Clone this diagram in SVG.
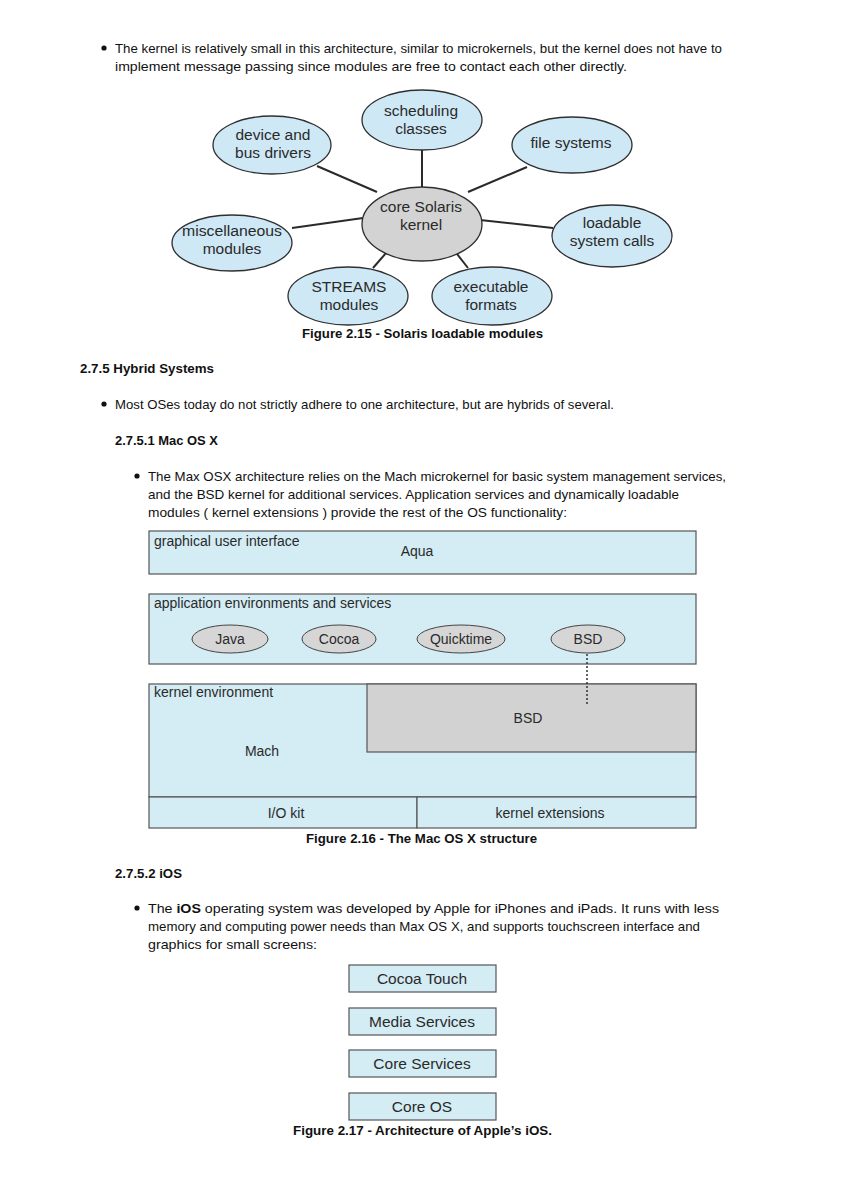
<svg xmlns="http://www.w3.org/2000/svg" width="846" height="1197" viewBox="0 0 846 1197">
<style>
.t{font-family:"Liberation Sans",Arial,sans-serif;font-size:13px;fill:#111}
.b{font-weight:bold}
.n{font-family:"Liberation Sans",Arial,sans-serif;font-size:15.5px;fill:#2a2a2a;text-anchor:middle}
.m{font-family:"Liberation Sans",Arial,sans-serif;font-size:14px;fill:#2a2a2a}
.mc{text-anchor:middle}
.blue{fill:#cfe8f6;stroke:#2f2f2f;stroke-width:1.3}
.gray{fill:#d3d3d3;stroke:#2f2f2f;stroke-width:1.3}
.box{fill:#d4ecf4;stroke:#555;stroke-width:1.2}
.gbox{fill:#d2d2d2;stroke:#555;stroke-width:1.2}
.ob{fill:#d6d6d6;stroke:#444;stroke-width:1}
.edge{stroke:#2a2a2a;stroke-width:2;fill:none}
.dot{stroke:#333;stroke-width:1.5;stroke-dasharray:2,2;fill:none}
</style>
<rect width="846" height="1197" fill="#fff"/>

<!-- page text -->
<circle cx="104" cy="48" r="2.6" fill="#111"/>
<text class="t" x="115" y="52.5" textLength="607" lengthAdjust="spacingAndGlyphs">The kernel is relatively small in this architecture, similar to microkernels, but the kernel does not have to</text>
<text class="t" x="115" y="70.5" textLength="512" lengthAdjust="spacingAndGlyphs">implement message passing since modules are free to contact each other directly.</text>

<!-- Solaris diagram -->
<g id="connectors">
<line class="edge" x1="317" y1="166" x2="377" y2="192"/>
<line class="edge" x1="422" y1="150" x2="422" y2="187"/>
<line class="edge" x1="527" y1="167" x2="468" y2="192"/>
<line class="edge" x1="292" y1="228" x2="363" y2="218"/>
<line class="edge" x1="480" y1="220" x2="553" y2="228"/>
<line class="edge" x1="373" y1="268" x2="393" y2="245"/>
<line class="edge" x1="468" y1="268" x2="450" y2="245"/>
</g>
<g id="device"><ellipse class="blue" cx="272" cy="145" rx="59" ry="29"/><text class="n" x="273" y="140">device and</text><text class="n" x="273" y="158">bus drivers</text></g>
<g id="scheduling"><ellipse class="blue" cx="422" cy="120" rx="60" ry="30"/><text class="n" x="421" y="116">scheduling</text><text class="n" x="421" y="134">classes</text></g>
<g id="filesystems"><ellipse class="blue" cx="572" cy="145" rx="60" ry="28"/><text class="n" x="571" y="148">file systems</text></g>
<g id="core"><ellipse class="gray" cx="422" cy="224" rx="60" ry="37"/><text class="n" x="421" y="212">core Solaris</text><text class="n" x="421" y="230">kernel</text></g>
<g id="misc"><ellipse class="blue" cx="232" cy="243" rx="60" ry="28"/><text class="n" x="232" y="236" textLength="100" lengthAdjust="spacingAndGlyphs">miscellaneous</text><text class="n" x="232" y="254">modules</text></g>
<g id="loadable"><ellipse class="blue" cx="612" cy="236" rx="60" ry="31"/><text class="n" x="612" y="228">loadable</text><text class="n" x="612" y="246">system calls</text></g>
<g id="streams"><ellipse class="blue" cx="348" cy="296" rx="60" ry="29"/><text class="n" x="349" y="292">STREAMS</text><text class="n" x="349" y="310">modules</text></g>
<g id="executable"><ellipse class="blue" cx="492" cy="296" rx="60" ry="29"/><text class="n" x="491" y="292">executable</text><text class="n" x="491" y="310">formats</text></g>

<text class="t b" x="302" y="337.5" textLength="241" lengthAdjust="spacingAndGlyphs">Figure 2.15 - Solaris loadable modules</text>
<text class="t b" x="80" y="372.5" textLength="134" lengthAdjust="spacingAndGlyphs">2.7.5 Hybrid Systems</text>
<circle cx="104" cy="404" r="2.6" fill="#111"/>
<text class="t" x="115" y="408.5" textLength="499" lengthAdjust="spacingAndGlyphs">Most OSes today do not strictly adhere to one architecture, but are hybrids of several.</text>
<text class="t b" x="115" y="444.5" textLength="103" lengthAdjust="spacingAndGlyphs">2.7.5.1 Mac OS X</text>
<circle cx="137" cy="476" r="2.6" fill="#111"/>
<text class="t" x="148" y="480.5" textLength="578" lengthAdjust="spacingAndGlyphs">The Max OSX architecture relies on the Mach microkernel for basic system management services,</text>
<text class="t" x="148" y="498.5" textLength="531" lengthAdjust="spacingAndGlyphs">and the BSD kernel for additional services. Application services and dynamically loadable</text>
<text class="t" x="148" y="516.5" textLength="419" lengthAdjust="spacingAndGlyphs">modules ( kernel extensions ) provide the rest of the OS functionality:</text>

<!-- Mac OS X diagram -->
<g id="aqua"><rect class="box" x="149" y="531" width="547" height="43"/><text class="m" x="154" y="546">graphical user interface</text><text class="m mc" x="417" y="556">Aqua</text></g>
<g id="appenv"><rect class="box" x="149" y="594" width="547" height="70"/><text class="m" x="154" y="608">application environments and services</text></g>
<g id="java"><ellipse class="ob" cx="230" cy="639" rx="38" ry="14"/><text class="m mc" x="230" y="644">Java</text></g>
<g id="cocoa"><ellipse class="ob" cx="339" cy="639" rx="37" ry="14"/><text class="m mc" x="339" y="644">Cocoa</text></g>
<g id="quicktime"><ellipse class="ob" cx="461" cy="639" rx="44" ry="14"/><text class="m mc" x="461" y="644">Quicktime</text></g>
<g id="bsdapp"><ellipse class="ob" cx="588" cy="639" rx="37" ry="14"/><text class="m mc" x="588" y="644">BSD</text></g>
<g id="kernelenv"><rect class="box" x="149" y="684" width="547" height="113"/><text class="m" x="154" y="697">kernel environment</text><text class="m mc" x="262" y="756">Mach</text></g>
<g id="bsdkernel"><rect class="gbox" x="367" y="684" width="329" height="68"/><text class="m mc" x="528" y="723">BSD</text></g>
<g id="iokit"><rect class="box" x="149" y="797" width="268" height="31"/><text class="m mc" x="286" y="818">I/O kit</text></g>
<g id="kext"><rect class="box" x="417" y="797" width="279" height="31"/><text class="m mc" x="550" y="818">kernel extensions</text></g>
<g id="mac-connectors">
<line class="dot" x1="587" y1="654" x2="587" y2="706"/>
</g>

<text class="t b" x="306" y="842.5" textLength="231" lengthAdjust="spacingAndGlyphs">Figure 2.16 - The Mac OS X structure</text>
<text class="t b" x="115" y="877.5" textLength="67" lengthAdjust="spacingAndGlyphs">2.7.5.2 iOS</text>
<circle cx="137" cy="908" r="2.6" fill="#111"/>
<text class="t" x="148" y="912.5" textLength="571" lengthAdjust="spacingAndGlyphs">The <tspan font-weight="bold">iOS</tspan> operating system was developed by Apple for iPhones and iPads. It runs with less</text>
<text class="t" x="148" y="930.5" textLength="552" lengthAdjust="spacingAndGlyphs">memory and computing power needs than Max OS X, and supports touchscreen interface and</text>
<text class="t" x="148" y="948.5" textLength="169" lengthAdjust="spacingAndGlyphs">graphics for small screens:</text>

<!-- iOS diagram -->
<g id="cocoatouch"><rect class="box" x="349" y="965" width="147" height="27"/><text class="n" x="422" y="984">Cocoa Touch</text></g>
<g id="media"><rect class="box" x="349" y="1008" width="147" height="27"/><text class="n" x="422" y="1027">Media Services</text></g>
<g id="coreservices"><rect class="box" x="349" y="1050" width="147" height="27"/><text class="n" x="422" y="1069">Core Services</text></g>
<g id="coreos"><rect class="box" x="349" y="1093" width="147" height="27"/><text class="n" x="422" y="1112">Core OS</text></g>
<text class="t b" x="293" y="1134.5" textLength="259" lengthAdjust="spacingAndGlyphs">Figure 2.17 - Architecture of Apple’s iOS.</text>
</svg>
